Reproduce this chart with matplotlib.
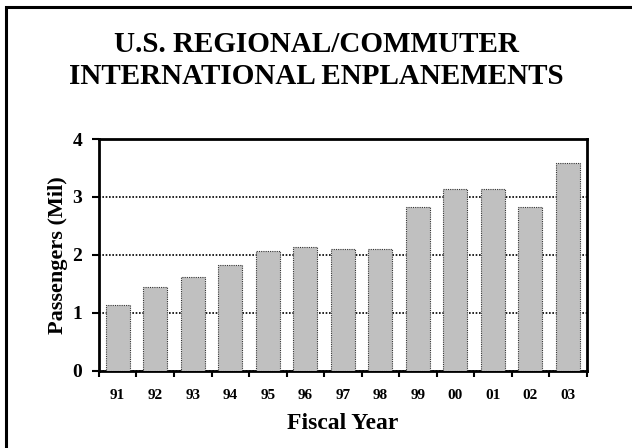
import numpy as np
import matplotlib
matplotlib.use("Agg")
import matplotlib.pyplot as plt
from matplotlib.patches import Rectangle

years = ["91", "92", "93", "94", "95", "96", "97", "98", "99", "00", "01", "02", "03"]
passengers = [1.13, 1.44, 1.61, 1.82, 2.06, 2.13, 2.10, 2.10, 2.82, 3.13, 3.13, 2.82, 3.58]

plt.rcParams['font.family'] = ['Liberation Serif', 'DejaVu Serif']
plt.rcParams['font.weight'] = 'bold'

fig = plt.figure(figsize=(6.32, 4.48), dpi=100)
ax = fig.add_axes([0.1566, 0.1725, 0.7717, 0.5172])

x = np.arange(len(years))
ax.bar(x, passengers, width=0.64, color='#c0c0c0', edgecolor='#333333',
       linewidth=0.8, linestyle=(0, (1, 1)), zorder=3)

ax.set_xlim(-0.5, len(years) - 0.5)
ax.set_ylim(0, 4)
ax.set_yticks([0, 1, 2, 3, 4])
ax.set_yticklabels(['0', '1', '2', '3', '4'], fontsize=14, fontweight='bold')
ax.tick_params(axis='y', direction='out', length=5, width=1.5, pad=7)

# ticks on category edges, labels under bars
ax.set_xticks(np.arange(len(years) + 1) - 0.5)
ax.set_xticklabels([])
ax.tick_params(axis='x', which='major', direction='out', length=4, width=1.5)
ax.set_xticks(x, minor=True)
ax.set_xticklabels(years, minor=True, fontsize=11, fontweight='bold')
ax.tick_params(axis='x', which='minor', length=0, pad=13)

ax.yaxis.grid(True, color='black', linestyle=(0, (1, 1)), linewidth=1.2, zorder=1)
for s in ax.spines.values():
    s.set_linewidth(2)

ax.set_ylabel('Passengers (Mil)', fontsize=16, fontweight='bold', labelpad=3)
ax.set_xlabel('Fiscal Year', fontsize=17, fontweight='bold', labelpad=8)

fig.text(0.5, 1 - 45 / 448, 'U.S. REGIONAL/COMMUTER', ha='center', va='center',
         fontsize=21, fontweight='bold')
fig.text(0.5, 1 - 77 / 448, 'INTERNATIONAL ENPLANEMENTS', ha='center', va='center',
         fontsize=21, fontweight='bold')

# outer frame, cut off at right and bottom like the original
fig.patches.append(Rectangle((6 / 632, -0.1), 1.2, 1.1 - 7 / 448, transform=fig.transFigure,
                             fill=False, edgecolor='black', linewidth=2.2))

fig.savefig("out.png", dpi=100)
